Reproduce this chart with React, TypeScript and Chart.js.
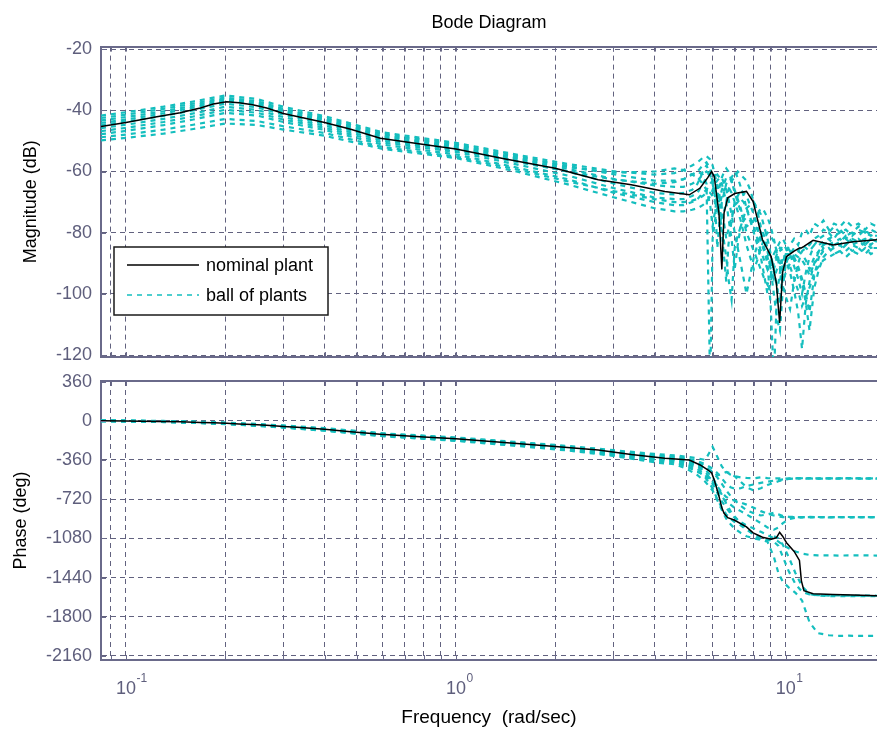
import React, { useEffect, useRef } from 'react';
import { Chart, registerables } from 'chart.js';

Chart.register(...registerables);

const FONT = "'Liberation Sans', Arial, sans-serif";
Chart.defaults.font.family = FONT;

const CYAN = '#14bebe';
const GRID = '#62627f';
const AXIS = '#6a6a8a';
const TICK_TEXT = '#5e5e7c';

// ---------- axis ticks ----------
const xGridValues = [0.09, 0.1, 0.2, 0.3, 0.4, 0.5, 0.6, 0.7, 0.8, 0.9, 1, 2, 3, 4, 5, 6, 7, 8, 9, 10];
const xLabelValues = [0.1, 1, 10];
const xLabelExponents = ['-1', '0', '1'];
const magTicks = [-120, -100, -80, -60, -40, -20];
const phaseTicks = [-2160, -1800, -1440, -1080, -720, -360, 0, 360];

// ---------- nominal plant ----------
const nominalFreq = [0.084, 0.1, 0.124, 0.146, 0.168, 0.184, 0.202, 0.22, 0.242, 0.267, 0.3, 0.33, 0.4, 0.48, 0.59, 0.8, 1.0, 1.4, 2.0, 2.7, 3.4, 4.3, 5.1, 5.5, 5.8, 5.96, 6.07, 6.27, 6.4, 6.5, 6.67, 7.0, 7.6, 7.96, 8.5, 9.03, 9.36, 9.58, 9.78, 10.05, 10.6, 11.0, 11.15, 11.35, 12.1, 13.9, 16, 18.9];
const nominalMag = [-45.3, -44.0, -42.1, -40.8, -39.2, -37.9, -37.2, -37.5, -38.2, -39.2, -41.0, -42.0, -44.0, -46.2, -49.1, -51.2, -52.6, -55.8, -58.9, -62.7, -64.3, -66.5, -67.6, -65.4, -62.0, -60.0, -61.6, -73.5, -92.0, -73.5, -68.6, -67.2, -66.5, -69.8, -82.3, -87.8, -96.4, -109.5, -93.0, -87.8, -86.0, -85.0, -85.0, -84.5, -82.5, -84.0, -83.0, -82.3];
const nominalPhase = [0, -2, -6, -10, -15, -19, -24, -29, -35, -42, -52, -60, -78, -100, -125, -150, -166, -200, -237, -268, -310, -345, -360, -406, -450, -480, -545, -690, -800, -850, -890, -914, -975, -1030, -1070, -1089, -1075, -1025, -1060, -1120, -1200, -1283, -1470, -1560, -1588, -1595, -1600, -1606];

// ---------- ball of plants : magnitude ----------
const ballMagFreq = [
  0.084, 0.1, 0.13, 0.16, 0.2, 0.25, 0.3, 0.4, 0.6, 1, 1.5, 2.2, 3, 4,
  4.6, 4.9, 5.2, 5.4, 5.6, 5.75, 5.9, 6.0, 6.1, 6.2,
  6.3, 6.4, 6.5, 6.6, 6.7, 6.85, 7.0, 7.15, 7.3, 7.45,
  7.6, 7.8, 8.0, 8.2, 8.4, 8.6, 8.8, 9.0, 9.2, 9.4,
  9.6, 9.8, 10.0, 10.3, 10.6, 10.9, 11.2, 11.5, 11.8, 12.2,
  12.6, 13.0, 13.5, 14.0, 14.6, 15.2, 15.9, 16.6, 17.4, 18.1, 18.9,
];

const ballMag1 = [
  -41.7, -40.6, -38.8, -37.1, -35.1, -36.3, -38.8, -41.9, -47.2, -50.6, -54.3, -57.6, -59.9, -61.0,
  -60.5, -59.5, -58, -57, -55.5, -55, -56, -58, -61, -66,
  -71, -75, -73, -70, -66, -63, -62, -60, -61, -62,
  -63, -66, -70, -73, -78, -81, -85, -89, -93, -97,
  -96, -90, -86, -84, -82, -84, -80, -79, -81, -77,
  -78, -76, -79, -77, -78, -76, -78, -77, -79, -77, -78,
];
const ballMag2 = [
  -42.5, -41.4, -39.5, -37.8, -35.8, -37.0, -39.5, -42.5, -47.7, -51.1, -54.8, -58.2, -60.9, -63.0,
  -63, -62.5, -61, -60, -58, -57, -59, -62, -70, -85,
  -76, -70, -67, -64, -63, -62, -60, -62, -65, -68,
  -72, -76, -80, -84, -88, -94, -100, -96, -92, -88,
  -86, -84, -85, -87, -91, -95, -100, -93, -88, -84,
  -82, -81, -80, -82, -79, -81, -80, -78, -80, -79, -80,
];
const ballMag3 = [
  -43.3, -42.2, -40.3, -38.5, -36.3, -37.5, -40.0, -43.0, -48.2, -51.6, -55.3, -58.6, -60.4, -60.0,
  -59, -59.5, -61, -62, -64, -66, -71, -78, -73, -68,
  -65, -62, -60, -59, -60, -63, -67, -70, -73, -76,
  -78, -77, -76, -74, -72, -73, -75, -78, -82, -87,
  -92, -97, -101, -105, -96, -90, -86, -85, -84, -82,
  -81, -79, -80, -78, -80, -79, -81, -79, -80, -81, -80,
];
const ballMag4 = [
  -44.1, -43.0, -41.0, -39.1, -36.8, -38.0, -40.5, -43.5, -48.7, -52.1, -55.8, -59.2, -62.4, -64.5,
  -65, -65, -64, -63, -61, -60, -61, -63, -66, -70,
  -75, -80, -88, -96, -84, -76, -70, -68, -66, -67,
  -68, -71, -74, -78, -83, -86, -90, -104, -128, -100,
  -93, -88, -87, -87, -88, -91, -95, -100, -106, -94,
  -88, -85, -84, -83, -82, -84, -82, -83, -84, -82, -83,
];
const ballMag5 = [
  -44.8, -43.7, -41.8, -40.0, -37.8, -39.0, -41.4, -44.3, -49.3, -52.6, -56.3, -60.1, -63.9, -67.0,
  -67.5, -67, -66, -64, -60, -58, -61, -64, -68, -73,
  -71, -68, -66, -65, -65, -67, -70, -73, -76, -80,
  -84, -88, -92, -89, -85, -82, -80, -81, -83, -86,
  -91, -96, -93, -90, -87, -86, -87, -89, -92, -88,
  -86, -84, -83, -85, -84, -82, -84, -83, -82, -84, -82,
];
const ballMag6 = [
  -45.8, -44.7, -42.8, -41.0, -38.8, -39.9, -42.2, -45.0, -49.9, -53.1, -56.7, -60.0, -62.6, -64.0,
  -63.5, -62.5, -61, -60, -61, -64, -130, -82, -76, -72,
  -69, -66, -64, -62, -62, -63, -66, -69, -72, -76,
  -80, -83, -86, -89, -92, -95, -97, -94, -90, -87,
  -85, -86, -89, -93, -99, -106, -118, -103, -96, -90,
  -86, -84, -82, -81, -80, -82, -80, -81, -79, -81, -81,
];
const ballMag7 = [
  -46.8, -45.7, -43.8, -42.0, -39.8, -40.8, -43.0, -45.7, -50.5, -53.6, -57.5, -61.4, -65.4, -68.5,
  -69, -69, -68, -67, -64, -62, -60, -60, -62, -64,
  -68, -72, -77, -82, -79, -75, -71, -70, -69, -70,
  -72, -75, -78, -82, -86, -89, -92, -89, -87, -85,
  -83, -82, -84, -86, -89, -92, -96, -103, -112, -98,
  -92, -88, -86, -85, -84, -86, -84, -85, -83, -85, -84,
];
const ballMag8 = [
  -47.8, -46.7, -44.8, -43.0, -40.8, -41.7, -43.8, -46.4, -51.2, -54.4, -58.5, -62.6, -66.9, -70.0,
  -71, -71, -70, -69, -67, -66, -64, -63, -62, -61,
  -62, -64, -67, -70, -75, -82, -92, -84, -78, -75,
  -72, -71, -70, -72, -74, -78, -82, -87, -92, -98,
  -103, -92, -89, -88, -87, -88, -89, -91, -94, -90,
  -88, -86, -85, -87, -86, -84, -86, -85, -87, -85, -85,
];
const ballMag9 = [
  -48.8, -47.9, -46.3, -44.7, -42.8, -43.5, -45.2, -47.4, -52.0, -55.1, -59.1, -63.3, -66.4, -69.0,
  -70, -70, -69.5, -69, -68, -67, -67, -68, -70, -72,
  -75, -78, -83, -88, -95, -102, -85, -81, -78, -76,
  -75, -76, -77, -79, -82, -85, -88, -92, -95, -92,
  -90, -88, -89, -91, -95, -99, -104, -101, -98, -93,
  -91, -89, -88, -87, -86, -88, -86, -87, -85, -87, -86,
];
const ballMag10 = [
  -49.8, -49.0, -47.6, -46.1, -44.3, -44.8, -46.3, -48.3, -52.6, -55.6, -59.8, -64.3, -68.4, -72.0,
  -73, -73, -72.5, -72, -71, -70, -68, -66, -64, -63,
  -62, -62, -64, -66, -69, -74, -80, -85, -90, -95,
  -100, -94, -88, -84, -80, -83, -86, -92, -100, -108,
  -112, -98, -90, -87, -85, -86, -84, -85, -86, -84,
  -84, -83, -82, -84, -83, -81, -83, -82, -84, -82, -83,
];

// ---------- ball of plants : phase ----------
const ballPhaseFreq = [0.084, 0.1, 0.13, 0.16, 0.2, 0.25, 0.3, 0.4, 0.6, 1, 1.5, 2.2, 3, 4, 4.6, 5.0, 5.4, 5.7, 6.0, 6.2, 6.4, 6.6, 6.8, 7.0, 7.3, 7.6, 8.0, 8.4, 8.8, 9.2, 9.5, 9.8, 10.2, 10.7, 11.2, 11.8, 12.5, 13.5, 14.5, 15.5, 17, 18.9];

const ballPhase1 = [4, 2, -2, -7, -16, -30, -43, -68, -115, -154, -193, -232, -270, -305, -318, -330, -345, -360, -240, -330, -420, -470, -495, -510, -520, -525, -528, -520, -526, -530, -528, -531, -530, -529, -531, -530, -528, -530, -531, -529, -530, -531];
const ballPhase2 = [3, 1, -4, -9, -19, -33, -47, -72, -119, -158, -198, -238, -278, -318, -330, -345, -370, -400, -440, -480, -530, -580, -610, -625, -620, -600, -585, -570, -560, -550, -545, -538, -533, -530, -528, -530, -532, -530, -528, -530, -531, -529];
const ballPhase3 = [2, 0, -5, -11, -21, -35, -49, -75, -122, -162, -202, -242, -282, -322, -335, -350, -380, -420, -470, -500, -490, -470, -480, -510, -560, -610, -640, -620, -590, -570, -555, -545, -535, -527, -530, -527, -531, -528, -530, -527, -529, -528];
const ballPhase4 = [1, -1, -6, -12, -22, -37, -51, -77, -125, -165, -206, -247, -288, -330, -345, -360, -400, -450, -520, -600, -660, -700, -720, -735, -750, -770, -800, -830, -855, -870, -880, -885, -884, -886, -885, -883, -886, -885, -884, -886, -885, -884];
const ballPhase5 = [0, -2, -7, -14, -24, -39, -53, -79, -127, -167, -208, -250, -293, -340, -355, -375, -410, -440, -470, -520, -580, -640, -690, -730, -780, -820, -850, -870, -860, -845, -860, -875, -882, -884, -887, -885, -884, -887, -885, -884, -886, -885];
const ballPhase6 = [-1, -3, -8, -15, -25, -40, -55, -81, -130, -170, -212, -254, -298, -346, -360, -385, -420, -470, -560, -640, -700, -740, -770, -800, -830, -860, -900, -940, -980, -1000, -980, -940, -905, -890, -885, -887, -884, -886, -885, -887, -884, -886];
const ballPhase7 = [-2, -4, -9, -16, -27, -42, -57, -84, -133, -174, -216, -259, -304, -354, -365, -395, -440, -500, -580, -660, -740, -800, -850, -890, -930, -960, -990, -1020, -1050, -1080, -1110, -1140, -1170, -1200, -1220, -1232, -1237, -1236, -1238, -1237, -1236, -1238];
const ballPhase8 = [-3, -5, -10, -17, -28, -44, -59, -86, -136, -177, -220, -264, -310, -362, -375, -410, -460, -520, -620, -720, -800, -860, -900, -930, -960, -1000, -1040, -1070, -1090, -1110, -1150, -1250, -1380, -1500, -1570, -1595, -1602, -1605, -1604, -1606, -1605, -1607];
const ballPhase9 = [-4, -6, -11, -18, -29, -45, -61, -89, -139, -181, -224, -269, -316, -372, -385, -420, -470, -500, -540, -600, -680, -760, -830, -880, -940, -990, -1050, -1090, -1100, -1060, -1080, -1140, -1250, -1400, -1520, -1590, -1605, -1610, -1612, -1610, -1611, -1610];
const ballPhase10 = [-5, -7, -12, -19, -31, -47, -63, -92, -142, -185, -229, -274, -322, -382, -400, -440, -500, -560, -640, -730, -820, -900, -950, -990, -1030, -1060, -1080, -1095, -1110, -1250, -1400, -1480, -1530, -1580, -1650, -1850, -1950, -1970, -1975, -1974, -1976, -1975];

const ballMagSeries = [ballMag1, ballMag2, ballMag3, ballMag4, ballMag5, ballMag6, ballMag7, ballMag8, ballMag9, ballMag10];
const ballPhaseSeries = [ballPhase1, ballPhase2, ballPhase3, ballPhase4, ballPhase5, ballPhase6, ballPhase7, ballPhase8, ballPhase9, ballPhase10];

// ---------- helpers ----------
const pts = (xs: number[], ys: number[]) => xs.map((x, i) => ({ x, y: ys[i] }));

function buildDatasets(nomY: number[], ballX: number[], balls: number[][]) {
  return [
    {
      label: 'nominal plant',
      data: pts(nominalFreq, nomY),
      borderColor: '#000000',
      borderWidth: 1.5,
      pointRadius: 0,
      fill: false,
      tension: 0,
    },
    ...balls.map((ys) => ({
      label: 'ball of plants',
      data: pts(ballX, ys),
      borderColor: CYAN,
      borderWidth: 2.2,
      borderDash: [5, 5],
      pointRadius: 0,
      fill: false,
      tension: 0,
    })),
  ];
}

const setTicks = (values: number[]) => (scale: any) => {
  scale.ticks = values.map((v) => ({ value: v }));
};

const gridOpts = { color: GRID, lineWidth: 1, drawTicks: false };
const borderOpts = { display: true, color: AXIS, width: 2, dash: [5, 4] };

function xScale(height: number, withTitle: boolean) {
  return {
    type: 'logarithmic',
    min: 0.084,
    max: 18.9,
    position: 'bottom',
    afterBuildTicks: setTicks(xGridValues),
    ticks: { display: false },
    grid: gridOpts,
    border: borderOpts,
    title: withTitle
      ? { display: true, text: 'Frequency  (rad/sec)', color: '#000', font: { size: 19 }, padding: { top: 0, bottom: 0 } }
      : { display: false },
    afterFit: (s: any) => {
      s.height = height;
      s.paddingLeft = 0;
      s.paddingRight = 0;
    },
  };
}

function yScale(min: number, max: number, ticks: number[], title: string, titlePad: number) {
  return {
    type: 'linear',
    min,
    max,
    afterBuildTicks: setTicks(ticks),
    ticks: {
      color: TICK_TEXT,
      font: { size: 18 },
      padding: 9,
      autoSkip: false,
      callback: (v: any) => String(v),
    },
    grid: gridOpts,
    border: borderOpts,
    title: { display: true, text: title, color: '#000', font: { size: 18 }, padding: { top: titlePad, bottom: 0 } },
    afterFit: (s: any) => {
      s.width = 101;
      s.paddingTop = 0;
      s.paddingBottom = 0;
    },
  };
}

const framePlugin = {
  id: 'frame',
  afterDraw(chart: any) {
    const { ctx, chartArea } = chart;
    const { left, right, top, bottom } = chartArea;
    ctx.save();
    ctx.strokeStyle = AXIS;
    ctx.lineWidth = 2;
    ctx.beginPath();
    ctx.moveTo(left, Math.round(top));
    ctx.lineTo(right, Math.round(top));
    ctx.stroke();
    ctx.lineWidth = 1;
    ctx.beginPath();
    const xs = chart.scales.x;
    xs.ticks.forEach((t: any) => {
      const px = Math.round(xs.getPixelForValue(t.value)) + 0.5;
      ctx.moveTo(px, bottom);
      ctx.lineTo(px, bottom - 5);
      ctx.moveTo(px, top);
      ctx.lineTo(px, top + 5);
    });
    const ys = chart.scales.y;
    ys.ticks.forEach((t: any) => {
      const py = Math.round(ys.getPixelForValue(t.value)) + 0.5;
      ctx.moveTo(left, py);
      ctx.lineTo(left + 5, py);
    });
    ctx.stroke();
    ctx.restore();
  },
};

const boxLegendPlugin = {
  id: 'boxLegend',
  afterDraw(chart: any) {
    const { ctx } = chart;
    const items = [chart.data.datasets[0], chart.data.datasets[1]];
    const left = 114;
    const top = 247;
    const w = 214;
    const h = 68;
    ctx.save();
    ctx.fillStyle = '#ffffff';
    ctx.fillRect(left, top, w, h);
    ctx.strokeStyle = '#1a1a1a';
    ctx.lineWidth = 1.5;
    ctx.strokeRect(left, top, w, h);
    items.forEach((ds: any, i: number) => {
      const y = top + 18 + i * 30;
      ctx.beginPath();
      ctx.setLineDash(ds.borderDash || []);
      ctx.strokeStyle = ds.borderColor;
      ctx.lineWidth = 1.5;
      ctx.moveTo(left + 13, y);
      ctx.lineTo(left + 85, y);
      ctx.stroke();
      ctx.setLineDash([]);
      ctx.fillStyle = '#000';
      ctx.font = `18px ${FONT}`;
      ctx.textBaseline = 'middle';
      ctx.textAlign = 'left';
      ctx.fillText(ds.label, left + 92, y + 1);
    });
    ctx.restore();
  },
};

const xLabelPlugin = {
  id: 'xPowerLabels',
  afterDraw(chart: any) {
    const { ctx } = chart;
    const xs = chart.scales.x;
    const yBase = 319;
    ctx.save();
    ctx.fillStyle = TICK_TEXT;
    ctx.textBaseline = 'middle';
    xLabelValues.forEach((v, i) => {
      const px = xs.getPixelForValue(v);
      ctx.font = `18px ${FONT}`;
      ctx.textAlign = 'center';
      ctx.fillText('10', px, yBase);
      const w = ctx.measureText('10').width;
      ctx.font = `12px ${FONT}`;
      ctx.textAlign = 'left';
      ctx.fillText(xLabelExponents[i], px + w / 2 + 0.5, yBase - 10);
    });
    ctx.restore();
  },
};

export default function App() {
  const topRef = useRef<HTMLCanvasElement>(null);
  const botRef = useRef<HTMLCanvasElement>(null);

  useEffect(() => {
    const common = {
      responsive: false,
      animation: false,
      events: [],
    };
    const top = new Chart(topRef.current as HTMLCanvasElement, {
      type: 'line',
      data: { datasets: buildDatasets(nominalMag, ballMagFreq, ballMagSeries) as any },
      options: {
        ...common,
        layout: { padding: 0 },
        plugins: {
          legend: { display: false },
          tooltip: { enabled: false },
          title: {
            display: true,
            text: 'Bode Diagram',
            color: '#000',
            fullSize: false,
            font: { size: 18, weight: 'normal' },
            padding: { top: 12, bottom: 13 },
          },
        },
        scales: {
          x: xScale(13, false),
          y: yScale(-120.65, -19.15, magTicks, 'Magnitude (dB)', 20),
        },
      } as any,
      plugins: [framePlugin, boxLegendPlugin],
    });
    const bottom = new Chart(botRef.current as HTMLCanvasElement, {
      type: 'line',
      data: { datasets: buildDatasets(nominalPhase, ballPhaseFreq, ballPhaseSeries) as any },
      options: {
        ...common,
        layout: { padding: { top: 11, left: 0, right: 0, bottom: 0 } },
        plugins: {
          legend: { display: false },
          tooltip: { enabled: false },
          title: { display: false },
        },
        scales: {
          x: xScale(69, true),
          y: yScale(-2197, 365, phaseTicks, 'Phase (deg)', 10),
        },
      } as any,
      plugins: [framePlugin, xLabelPlugin],
    });
    return () => {
      top.destroy();
      bottom.destroy();
    };
  }, []);

  return (
    <div style={{ position: 'absolute', left: 0, top: 0, width: 877, height: 729, background: '#ffffff' }}>
      <canvas ref={topRef} width={877} height={370} style={{ position: 'absolute', left: 0, top: 0 }} />
      <canvas ref={botRef} width={877} height={359} style={{ position: 'absolute', left: 0, top: 370 }} />
    </div>
  );
}
